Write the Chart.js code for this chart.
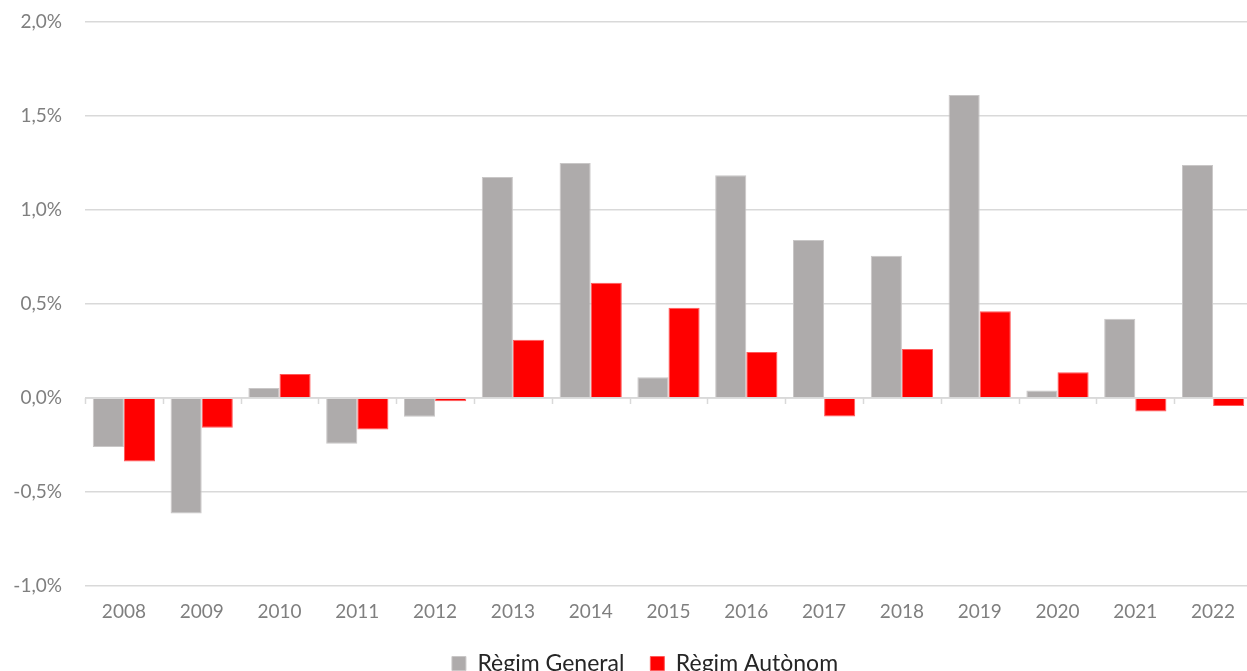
<!DOCTYPE html>
<html>
<head>
<meta charset="utf-8">
<script src="https://cdn.jsdelivr.net/npm/chart.js@4.4.1/dist/chart.umd.min.js"></script>
<style>
  html, body { margin: 0; padding: 0; background: #ffffff; overflow: hidden; }
  #wrap { width: 1252px; height: 671px; position: relative; }
</style>
</head>
<body>
<div id="wrap"><canvas id="c"></canvas></div>
<script>
const categories = ['2008','2009','2010','2011','2012','2013','2014','2015','2016','2017','2018','2019','2020','2021','2022'];
const regimGeneral = [-0.26, -0.615, 0.053, -0.244, -0.10, 1.175, 1.25, 0.11, 1.185, 0.84, 0.756, 1.612, 0.04, 0.422, 1.24];
const regimAutonom = [-0.338, -0.158, 0.128, -0.167, -0.017, 0.31, 0.613, 0.48, 0.245, -0.099, 0.261, 0.461, 0.137, -0.072, -0.042];
const seriesNames = ['Règim General', 'Règim Autònom'];

const FONT = "Lato, 'Open Sans', 'Liberation Sans', sans-serif";

const zeroTicks = {
  id: 'zeroTicks',
  afterDatasetsDraw(chart) {
    const x = chart.scales.x, y = chart.scales.y;
    const ctx = chart.ctx;
    const y0 = y.getPixelForValue(0);
    const n = categories.length;
    const w = (x.right - x.left) / n;
    ctx.save();
    ctx.strokeStyle = '#d9d9d9';
    ctx.lineWidth = 1.5;
    ctx.beginPath();
    ctx.moveTo(x.left, y0);
    ctx.lineTo(x.right, y0);
    for (let i = 0; i <= n; i++) {
      const px = Math.round(x.left + i * w) + 0.5;
      ctx.moveTo(px, y0);
      ctx.lineTo(px, y0 + 6);
    }
    ctx.stroke();
    ctx.restore();
  }
};

const legendShift = {
  id: 'legendShift',
  afterLayout(chart) {
    if (chart.legend) { chart.legend.left += 19; chart.legend.right += 19; }
  }
};

new Chart(document.getElementById('c'), {
  type: 'bar',
  data: {
    labels: categories,
    datasets: [
      { label: seriesNames[0], data: regimGeneral, backgroundColor: '#aeabab', borderColor: '#c9c7c7', borderWidth: 1 },
      { label: seriesNames[1], data: regimAutonom, backgroundColor: '#ff0000', borderColor: '#ff5a5a', borderWidth: 1 }
    ]
  },
  options: {
    responsive: true,
    maintainAspectRatio: false,
    animation: false,
    datasets: { bar: { categoryPercentage: 0.8, barPercentage: 1.0 } },
    layout: { padding: { top: 22, right: 0, bottom: -14, left: 0 } },
    plugins: {
      legend: {
        position: 'bottom',
        labels: {
          font: { family: FONT, size: 23 },
          color: '#262626',
          boxWidth: 14,
          boxHeight: 14,
          padding: 26
        }
      },
      tooltip: { enabled: false }
    },
    scales: {
      x: {
        afterFit(scale) { scale.height = 40; },
        grid: { display: false, drawTicks: false },
        border: { display: false },
        ticks: { color: '#7f7f7f', font: { family: FONT, size: 19 }, padding: 14 }
      },
      y: {
        min: -1, max: 2,
        afterFit(scale) { scale.width = 85; scale.paddingTop = 0; scale.paddingBottom = 0; },
        grid: { color: '#d9d9d9', lineWidth: 1.5, drawTicks: false },
        border: { display: false },
        ticks: {
          stepSize: 0.5,
          padding: 23,
          color: '#7f7f7f',
          font: { family: FONT, size: 19 },
          callback: v => v.toFixed(1).replace('.', ',') + '%'
        }
      }
    }
  },
  plugins: [zeroTicks, legendShift]
});
</script>
</body>
</html>
